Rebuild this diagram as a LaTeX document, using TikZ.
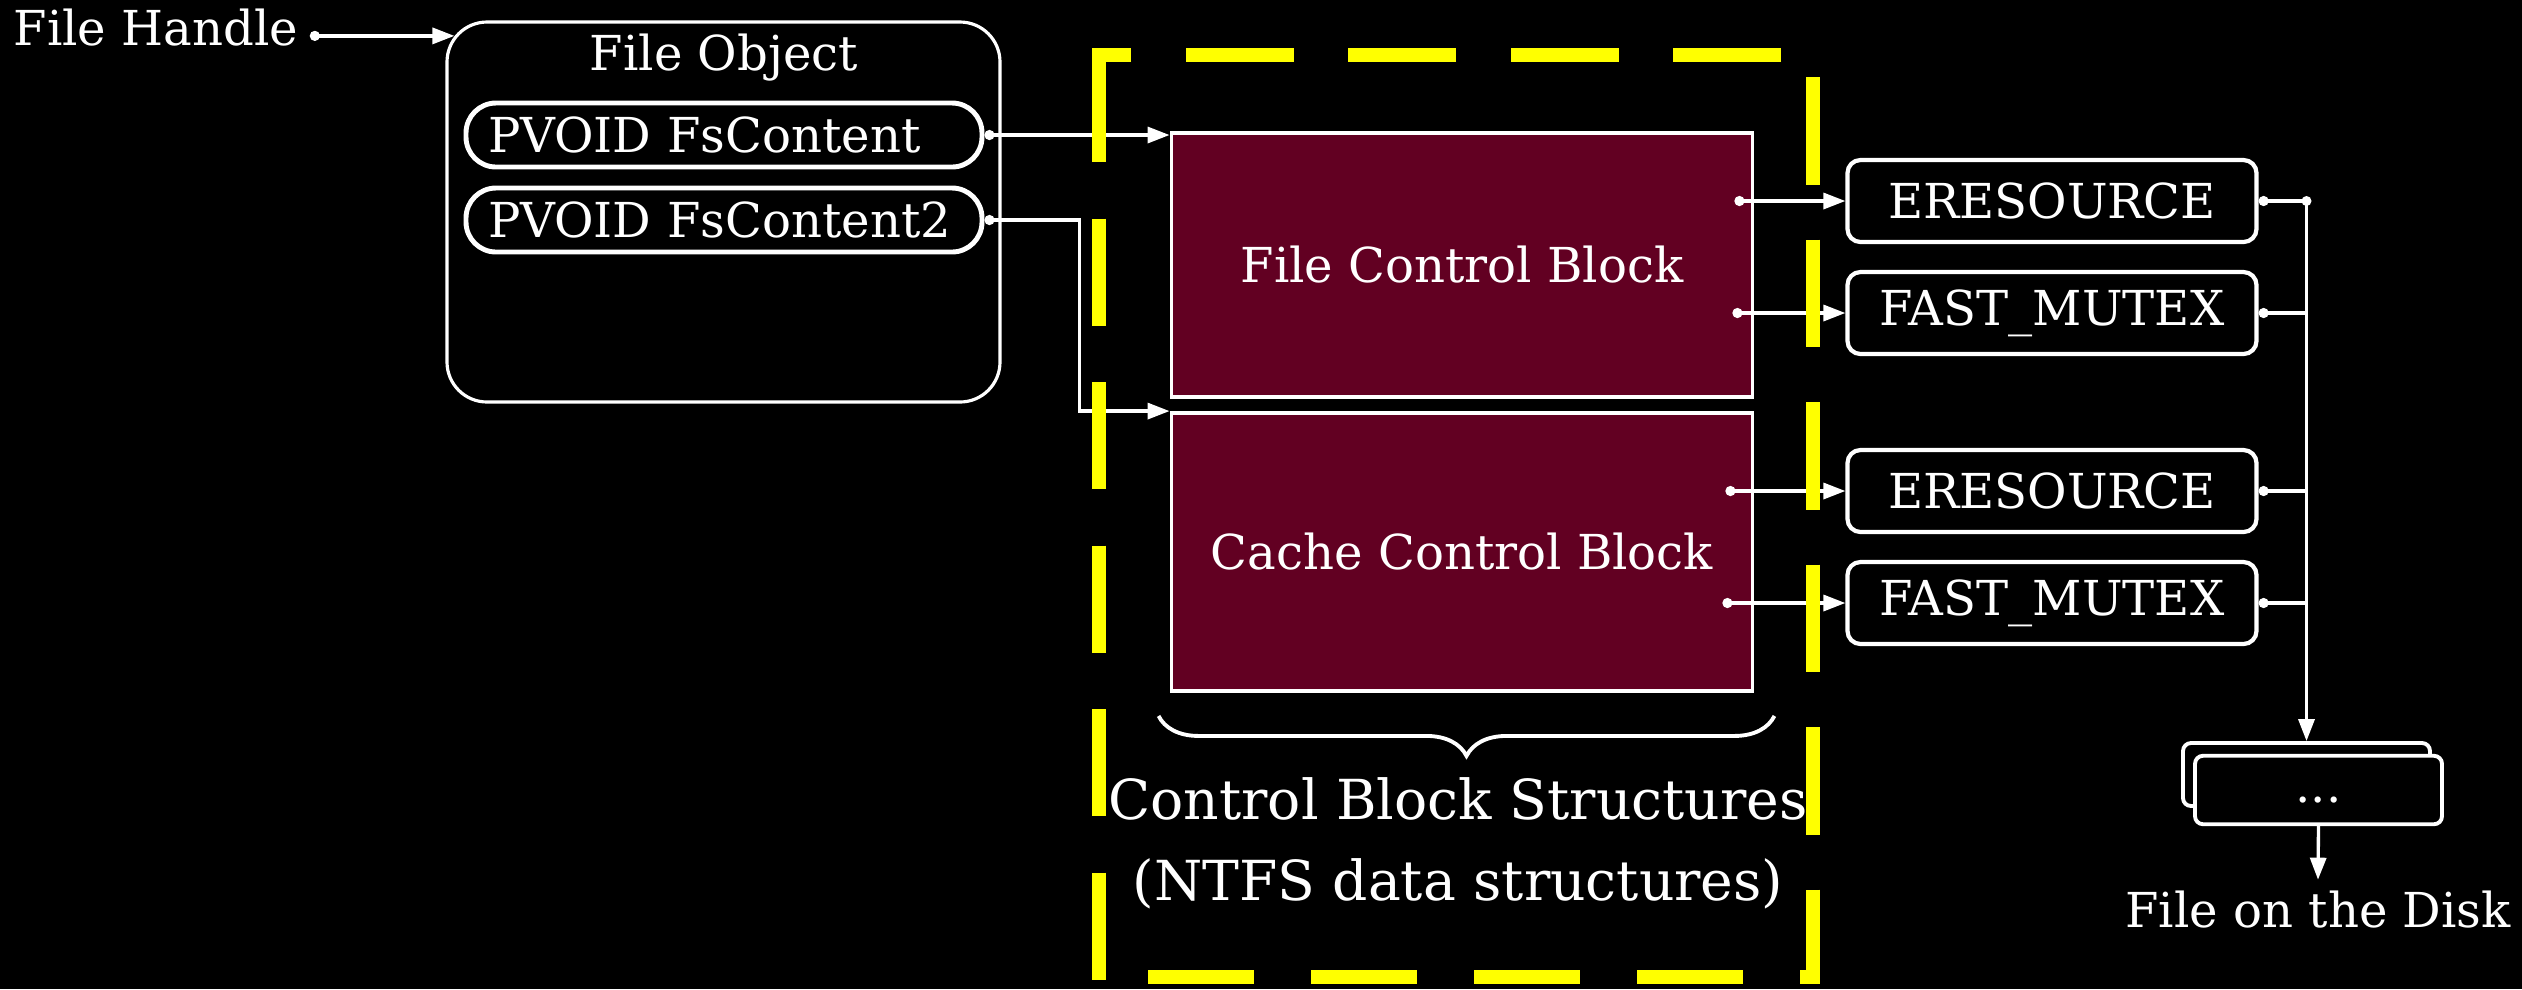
\documentclass[tikz,border=0pt]{standalone}
\usepackage{fontspec}
\setmainfont{DejaVu Serif}
\usetikzlibrary{calc,arrows.meta,decorations.pathreplacing}
\definecolor{blockWine}{RGB}{98,0,34}
\definecolor{frameYellow}{RGB}{255,255,0}
\newcommand{\LabelFont}{\fontsize{13.7}{16}\selectfont}
\newcommand{\NoteFont}{\fontsize{15.7}{23}\selectfont}

\begin{document}
\begin{tikzpicture}[
  txt/.style={text=white,inner sep=0.11cm,font=\LabelFont},
  pill/.style={draw=white,line width=1.4pt,rounded corners=0.3cm,text width=4.72cm,inner xsep=0.22cm,minimum height=0.64cm,align=left,text=white,font=\LabelFont},
  cblock/.style={draw=white,fill=blockWine,line width=1.1pt,minimum width=5.81cm,text=white,font=\LabelFont},
  lockbox/.style={draw=white,line width=1.2pt,rounded corners=0.13cm,minimum width=4.09cm,minimum height=0.82cm,text=white,font=\LabelFont},
  stackbox/.style={draw=white,fill=black,line width=1.1pt,rounded corners=0.08cm,minimum width=2.47cm,minimum height=0.63cm},
  ptr/.style={draw=white,line width=0.95pt,{Circle[length=0.1cm]}-{Triangle[length=0.22cm,width=0.16cm]}},
  wire/.style={draw=white,line width=0.95pt},
  yframe/.style={frameYellow,line width=0.14cm,dash pattern=on 1.07cm off 0.56cm}
]
\fill[black] (0,0) rectangle (25.22,-9.89);
\useasboundingbox (0,0) rectangle (25.22,-9.89);

\node[txt,anchor=base west] (fh) at (0.02,-0.45) {File Handle};
\node[draw=white,line width=0.9pt,rounded corners=0.4cm,minimum width=5.53cm,minimum height=3.80cm] (fobj) at (7.235,-2.12) {};
\node[txt] (fobjtitle) at (7.24,-0.58) {File Object};
\node[pill] (fsc) at (7.24,-1.35) {PVOID FsContent};
\node[pill] (fsc2) at (7.24,-2.20) {PVOID FsContent2};

\node[cblock,minimum height=2.64cm] (fcb) at (14.62,-2.65) {File Control Block};
\node[cblock,minimum height=2.78cm] (ccb) at (14.62,-5.52) {Cache Control Block};
\draw[white,line width=1.1pt,decorate,decoration={brace,mirror,amplitude=0.4cm}]
  ([xshift=-0.11cm,yshift=-0.23cm]ccb.south west) -- ([xshift=0.2cm,yshift=-0.23cm]ccb.south east);
\node[txt,font=\NoteFont,align=center] (cbs) at (14.58,-8.43) {Control Block Structures\\(NTFS data structures)};

\node[lockbox] (eres1) at (20.52,-2.01) {ERESOURCE};
\node[lockbox] (fm1) at (20.52,-3.13) {FAST\_MUTEX};
\node[lockbox] (eres2) at (20.52,-4.91) {ERESOURCE};
\node[lockbox] (fm2) at (20.52,-6.03) {FAST\_MUTEX};

\node[stackbox] (stackback) at (23.065,-7.745) {};
\node[stackbox,text=white,font=\LabelFont,text height=0.35cm,text depth=0.1cm] (stackfront) at (23.185,-7.90) {...};
\node[txt] (disk) at (23.18,-9.10) {File on the Disk};

\draw[ptr,shorten >=-0.09cm] (fh.mid east) -- (fh.mid east -| fobj.west);
\draw[ptr] (fsc.east) -- (fsc.east -| fcb.west);
\draw[ptr] (fsc2.east) -- ++(0.95,0) |- (ccb.north west);
\draw[ptr] ([xshift=-0.2cm]fcb.east |- eres1.west) -- (eres1.west);
\draw[ptr] ([xshift=-0.22cm]fcb.east |- fm1.west) -- (fm1.west);
\draw[ptr] ([xshift=-0.29cm]ccb.east |- eres2.west) -- (eres2.west);
\draw[ptr] ([xshift=-0.32cm]ccb.east |- fm2.west) -- (fm2.west);

\coordinate (bus) at (eres1.east -| stackback.north);
\draw[wire,{Circle[length=0.1cm]}-] (eres1.east) -- (bus);
\fill[white] (bus) circle (0.05cm);
\draw[wire,{Circle[length=0.1cm]}-] (fm1.east) -- (fm1.east -| bus);
\draw[wire,{Circle[length=0.1cm]}-] (eres2.east) -- (eres2.east -| bus);
\draw[wire,{Circle[length=0.1cm]}-] (fm2.east) -- (fm2.east -| bus);
\draw[wire,-{Triangle[length=0.22cm,width=0.16cm]}] (bus) -- (stackback.north);
\draw[wire,-{Triangle[length=0.22cm,width=0.16cm]}] (stackfront.south) -- (disk.north);

\draw[yframe,dash pattern=on 1.08cm off 0.545cm] (17.81,-0.55) -- (10.92,-0.55);
\draw[yframe,dash pattern=on 1.07cm off 0.565cm] (10.99,-0.55) -- (10.99,-9.80);
\draw[yframe,dash pattern=on 1.06cm off 0.57cm] (11.48,-9.77) -- (18.20,-9.77);
\draw[yframe,dash pattern=on 1.075cm off 0.55cm] (18.13,-0.77) -- (18.13,-9.84);
\end{tikzpicture}
\end{document}
